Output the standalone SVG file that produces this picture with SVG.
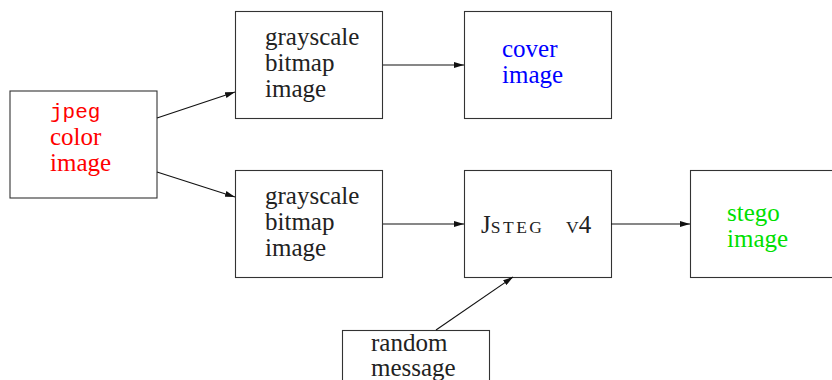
<svg xmlns="http://www.w3.org/2000/svg" width="832" height="380" viewBox="0 0 832 380">
<defs>
<marker id="ah" viewBox="0 0 10 6" refX="10" refY="3" markerWidth="10" markerHeight="6" markerUnits="userSpaceOnUse" orient="auto">
<path d="M0,0 L10,3 L0,6 z" fill="#111"/>
</marker>
<style>
.box{fill:#fff;stroke:#333;stroke-width:1.1}
.t{font-family:"Liberation Serif","DejaVu Serif",serif;font-size:25px;fill:#222}
.sc{font-size:17.5px}
.mono{font-family:"Liberation Mono","DejaVu Sans Mono",monospace;font-size:21px}
.red{fill:#ff0000}.blue{fill:#0000ff}.green{fill:#00e000}
.c{fill:none;stroke:#111;stroke-width:1.1;marker-end:url(#ah)}
</style>
</defs>
<rect width="832" height="380" fill="#fff"/>
<g id="jpeg">
<rect class="box" x="10" y="91" width="147" height="107"/>
<text class="t red"><tspan class="mono" x="50" y="118">jpeg</tspan><tspan x="50" y="145">color</tspan><tspan x="50" y="171">image</tspan></text>
</g>
<g id="gray1">
<rect class="box" x="235.5" y="11.5" width="147" height="107"/>
<text class="t"><tspan x="265" y="45">grayscale</tspan><tspan x="265" y="71">bitmap</tspan><tspan x="265" y="97">image</tspan></text>
</g>
<g id="cover">
<rect class="box" x="464.5" y="11.5" width="147" height="107"/>
<text class="t blue"><tspan x="502" y="57">cover</tspan><tspan x="502" y="83">image</tspan></text>
</g>
<g id="gray2">
<rect class="box" x="235.5" y="170.5" width="147" height="107"/>
<text class="t"><tspan x="265" y="204">grayscale</tspan><tspan x="265" y="230">bitmap</tspan><tspan x="265" y="256">image</tspan></text>
</g>
<g id="jsteg">
<rect class="box" x="464.5" y="170.5" width="147" height="107"/>
<text class="t" x="481" y="233">J<tspan class="sc" letter-spacing="2.5">STEG</tspan><tspan class="sc" x="566">V</tspan>4</text>
</g>
<g id="stego">
<rect class="box" x="690.5" y="170.5" width="147" height="107"/>
<text class="t green"><tspan x="727" y="221">stego</tspan><tspan x="727" y="247">image</tspan></text>
</g>
<g id="random">
<rect class="box" x="342.5" y="330.5" width="147" height="107"/>
<text class="t"><tspan x="371" y="351">random</tspan><tspan x="371" y="376">message</tspan></text>
</g>
<g id="connectors">
<line class="c" x1="157" y1="118" x2="235" y2="92"/>
<line class="c" x1="157" y1="172" x2="235" y2="197"/>
<line class="c" x1="383" y1="65" x2="464" y2="65"/>
<line class="c" x1="383" y1="224" x2="464" y2="224"/>
<line class="c" x1="611" y1="224" x2="690" y2="224"/>
<line class="c" x1="436" y1="330" x2="513" y2="277"/>
</g>
</svg>
